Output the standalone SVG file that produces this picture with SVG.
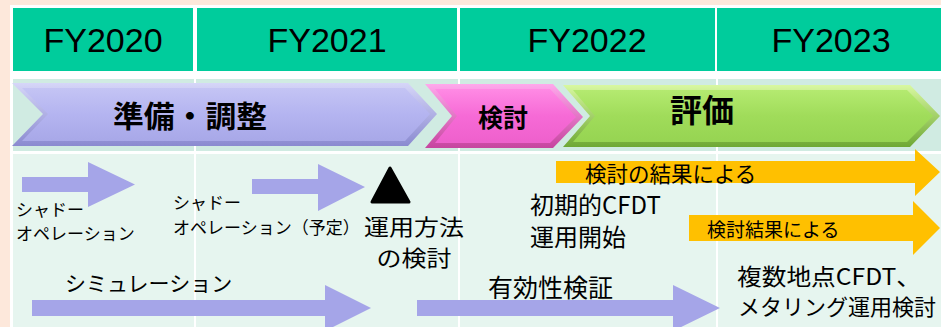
<svg xmlns="http://www.w3.org/2000/svg" width="941" height="327" viewBox="0 0 941 327">
<defs>
<style>
.hdr{fill:#00cc9c}
.band{fill:#d0ebe2}
.body{fill:#e6f5ef}
.yr{font-family:"Liberation Sans",Arial,sans-serif;font-size:34px;fill:#000;text-anchor:middle}
.jp{font-family:"Noto Sans CJK JP","Noto Sans",sans-serif;fill:#000}
.jpb{font-family:"Noto Sans CJK JP","Noto Sans",sans-serif;fill:#000;font-weight:bold;text-anchor:middle}
.pa{fill:#a5a5e8}
.oa{fill:#ffc000}
</style>
<linearGradient id="gPurO" x1="0" y1="0" x2="0" y2="1"><stop offset="0" stop-color="#d6d6f8"/><stop offset="1" stop-color="#8a8ad0"/></linearGradient>
<linearGradient id="gPurI" x1="0" y1="0" x2="0" y2="1"><stop offset="0" stop-color="#c4c4f4"/><stop offset="0.5" stop-color="#b4b4f0"/><stop offset="1" stop-color="#a8a8e8"/></linearGradient>
<linearGradient id="gPinO" x1="0" y1="0" x2="0" y2="1"><stop offset="0" stop-color="#ffa8ec"/><stop offset="1" stop-color="#c6449f"/></linearGradient>
<linearGradient id="gPinI" x1="0" y1="0" x2="0" y2="1"><stop offset="0" stop-color="#ff8ae4"/><stop offset="0.5" stop-color="#f66ad6"/><stop offset="1" stop-color="#ee60cc"/></linearGradient>
<linearGradient id="gGrnO" x1="0" y1="0" x2="0" y2="1"><stop offset="0" stop-color="#d8f8a0"/><stop offset="1" stop-color="#6ea834"/></linearGradient>
<linearGradient id="gGrnI" x1="0" y1="0" x2="0" y2="1"><stop offset="0" stop-color="#b4ea70"/><stop offset="0.5" stop-color="#a0dc5a"/><stop offset="1" stop-color="#96d452"/></linearGradient>
</defs>
<rect x="0" y="0" width="941" height="327" fill="#fde8db"/>
<rect x="10" y="5" width="931" height="322" fill="#ffffff"/>
<g id="grid">
<rect class="hdr" x="13" y="8" width="180" height="63"/>
<rect class="hdr" x="197" y="8" width="260" height="63"/>
<rect class="hdr" x="460" y="8" width="255" height="63"/>
<rect class="hdr" x="717" y="8" width="230" height="63"/>
<rect class="band" x="13" y="79" width="181" height="72"/>
<rect class="band" x="196" y="79" width="262" height="72"/>
<rect class="band" x="460" y="79" width="256" height="72"/>
<rect class="band" x="718" y="79" width="230" height="72"/>
<rect class="body" x="13" y="154" width="181" height="173"/>
<rect class="body" x="196" y="154" width="262" height="173"/>
<rect class="body" x="460" y="154" width="256" height="173"/>
<rect class="body" x="718" y="154" width="230" height="173"/>
</g>
<g id="years">
<text class="yr" x="103" y="52">FY2020</text>
<text class="yr" x="327" y="52">FY2021</text>
<text class="yr" x="587" y="52">FY2022</text>
<text class="yr" x="831" y="52">FY2023</text>
</g>
<g id="phase-prep">
<polygon points="12,83 408,83 437,114 408,146 12,146 43,114" fill="url(#gPurO)"/>
<polygon points="22,88 405,88 430,114 405,141 22,141 48,114" fill="url(#gPurI)"/>
<text class="jpb" x="190" y="127" font-size="30" textLength="154" lengthAdjust="spacingAndGlyphs">準備・調整</text>
</g>
<g id="phase-study">
<polygon points="425,84 553,84 583,117 553,148 425,148 452,116" fill="url(#gPinO)"/>
<polygon points="435,89 550,89 576,117 550,143 435,143 457,116" fill="url(#gPinI)"/>
<text class="jpb" x="503" y="127" font-size="25">検討</text>
</g>
<g id="phase-eval">
<polygon points="563,85 910,85 940,116 910,147 563,147 590,116" fill="url(#gGrnO)"/>
<polygon points="573,90 907,90 933,116 907,142 573,142 595,116" fill="url(#gGrnI)"/>
<text class="jpb" x="702" y="122" font-size="32">評価</text>
</g>
<g id="connectors">
<polygon class="pa" points="22,177 88,177 88,162 135,184.5 88,207 88,192 22,192"/>
<polygon class="pa" points="252,179 318,179 318,164 365,187 318,211 318,194 252,194"/>
<polygon class="pa" points="32,300 325,300 325,285 371,308 325,331 325,316 32,316"/>
<polygon class="pa" points="417,300 673,300 673,285 720,308 673,331 673,316 417,316"/>
<polygon class="oa" points="556,161 915,161 915,149 940,172 915,196 915,183 556,183"/>
<polygon class="oa" points="689,215 913,215 913,201 940,228 913,255 913,241 689,241"/>
</g>
<g id="shadow1">
<text class="jp" x="16" y="216" font-size="17">シャドー</text>
<text class="jp" x="16" y="240" font-size="17">オペレーション</text>
</g>
<g id="shadow2">
<text class="jp" x="173" y="209" font-size="17">シャドー</text>
<text class="jp" x="173" y="234" font-size="17">オペレーション（予定）</text>
</g>
<g id="milestone">
<polygon points="390,168 372,202 409,202" fill="#000" stroke="#000" stroke-width="3" stroke-linejoin="round"/>
<text class="jp" x="414" y="235" font-size="22" text-anchor="middle" textLength="100" lengthAdjust="spacingAndGlyphs">運用方法</text>
<text class="jp" x="414" y="266" font-size="22" text-anchor="middle" textLength="75" lengthAdjust="spacingAndGlyphs">の検討</text>
</g>
<g id="simulation">
<text class="jp" x="65" y="291" font-size="21">シミュレーション</text>
</g>
<g id="validation">
<text class="jp" x="488" y="297" font-size="25">有効性検証</text>
</g>
<g id="result1">
<text class="jp" x="585" y="182" font-size="21.5">検討の結果による</text>
</g>
<g id="result2">
<text class="jp" x="707" y="237" font-size="19">検討結果による</text>
</g>
<g id="initial-cfdt">
<text class="jp" x="530" y="214" font-size="24">初期的CFDT</text>
<text class="jp" x="530" y="246" font-size="24">運用開始</text>
</g>
<g id="multi-cfdt">
<text class="jp" x="737" y="285" font-size="23" textLength="184" lengthAdjust="spacingAndGlyphs">複数地点CFDT、</text>
<text class="jp" x="738" y="315" font-size="22" textLength="198" lengthAdjust="spacingAndGlyphs">メタリング運用検討</text>
</g>
</svg>
